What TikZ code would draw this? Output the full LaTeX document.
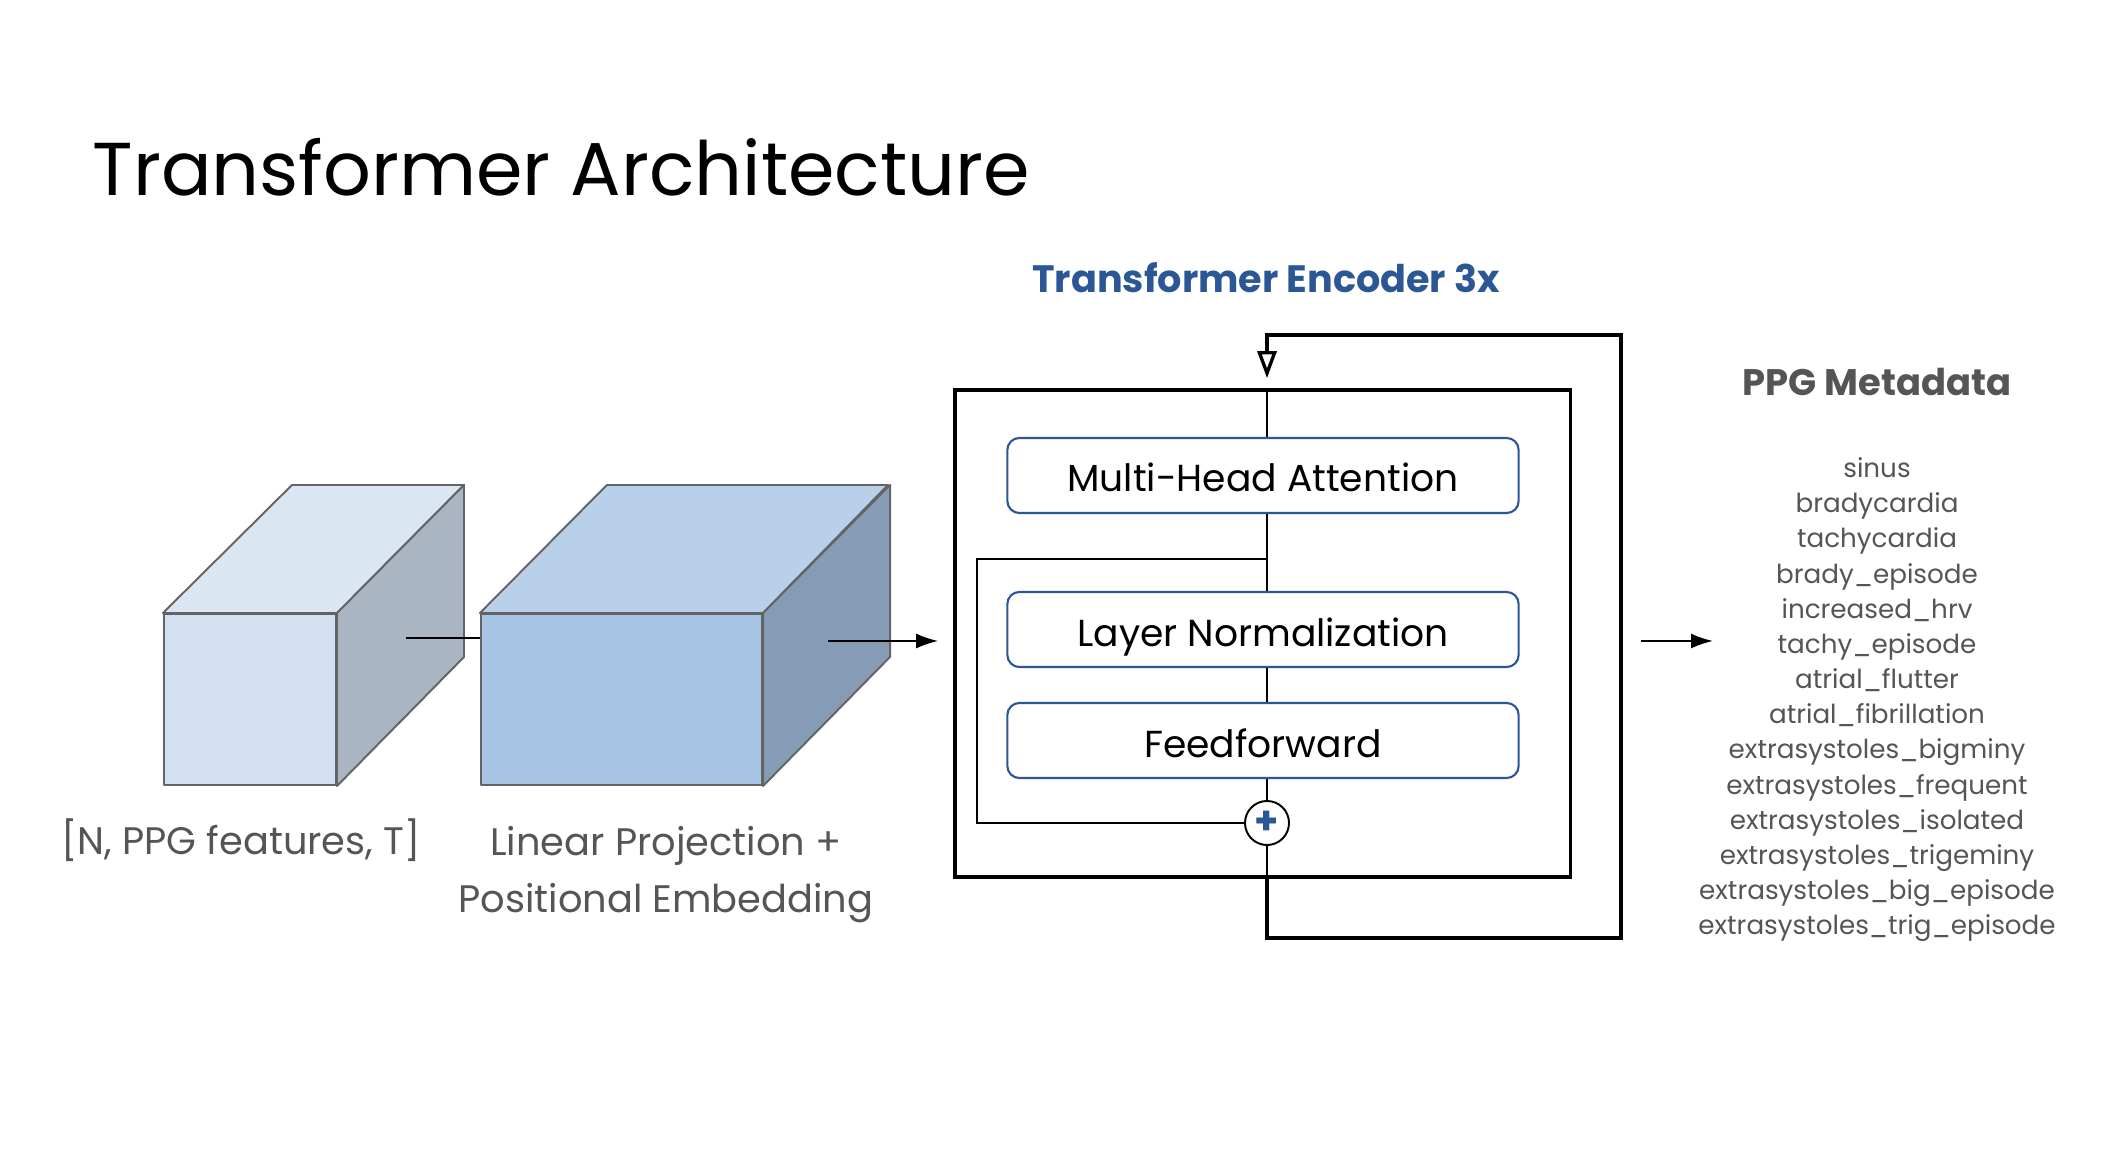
\documentclass[tikz,border=0pt]{standalone}
\usepackage{fontspec}
\setmainfont{Poppins}
\usetikzlibrary{arrows.meta, positioning, calc}

\definecolor{encblue}{RGB}{43,87,151}
\definecolor{txtgray}{RGB}{85,85,85}
\definecolor{edgegray}{RGB}{100,100,100}
\definecolor{inpfront}{RGB}{211,224,241}
\definecolor{inptop}{RGB}{219,230,243}
\definecolor{inpside}{RGB}{169,181,194}
\definecolor{embfront}{RGB}{167,196,228}
\definecolor{embtop}{RGB}{185,208,234}
\definecolor{embside}{RGB}{134,156,182}

\begin{document}
\begin{tikzpicture}[x=0.01cm, y=-0.01cm,
		face/.style={draw=edgegray, line width=0.55pt, line join=round},
		layer/.style={draw=encblue, line width=0.6pt, rounded corners=0.12cm, minimum width=5.11cm, minimum height=0.75cm, text height=0.33cm, text depth=0cm, font=\fontsize{10.7}{12}\selectfont},
		thinline/.style={line width=0.55pt},
		thickline/.style={line width=0.95pt},
		arr/.style={line width=0.55pt, -{Latex[length=0.22cm, width=0.15cm]}},
		lbl/.style={text=txtgray, font=\fontsize{10.9}{16.2}\selectfont, align=center, inner sep=0pt}]
		\useasboundingbox[fill=white] (0,0) rectangle (2112,1174);
		
		\node[anchor=base west, inner sep=0pt, font=\fontsize{21.3}{24}\selectfont] (title) at (92,196) {Transformer Architecture};
		
		% input and embedding blocks
		\node[face, fill=inpfront, minimum width=1.72cm, minimum height=1.71cm] (inp) at (250,699.5) {};
		\filldraw[face, fill=inptop] (inp.north west) -- ++(129,-128) -- ++(172,0) -- (inp.north east) -- cycle;
		\filldraw[face, fill=inpside] (inp.north east) -- ++(127,-128) -- ++(0,172) -- (inp.south east) -- cycle;
		
		\node[face, fill=embfront, minimum width=2.81cm, minimum height=1.71cm] (emb) at (621.5,699.5) {};
		\filldraw[face, fill=embtop] (emb.north west) -- ++(127,-128) -- ++(281,0) -- (emb.north east) -- cycle;
		\filldraw[face, fill=embside] (emb.north east) -- ++(127,-128) -- ++(0,172) -- (emb.south east) -- cycle;
		
		\node[lbl, anchor=base] (inplbl) at (241,855) {[N, PPG features, T]};
		\node[lbl, anchor=north] (emblbl) at (666,826) {Linear Projection +\\Positional Embedding};
		
		% encoder
		\node[draw, thickline, minimum width=6.15cm, minimum height=4.87cm] (enc) at (1262.5,633.5) {};
		\node[anchor=base, inner sep=0pt, text=encblue, font=\bfseries\fontsize{10.85}{13}\selectfont] (enctitle) at (1266,293) {Transformer Encoder 3x};
		
		\node[layer] (mha) at (1263,475.5) {Multi-Head Attention};
		\node[layer] (ln) at (1263,629.5) {Layer Normalization};
		\node[layer] (ff) at (1263,740.5) {Feedforward};
		\node[circle, draw, fill=white, thinline, minimum size=0.44cm, inner sep=0pt, text=encblue, font=\bfseries\fontsize{11}{11}\selectfont] (plus) at (1267,823) {+};
		
		\draw[thinline] (enc.north -| plus) -- (mha.north -| plus);
		\draw[thinline] (mha.south -| plus) -- (ln.north -| plus);
		\draw[thinline] (ln.south -| plus) -- (ff.north -| plus);
		\draw[thinline] (ff.south -| plus) -- (plus.north);
		\draw[thinline] (plus.south) -- (enc.south -| plus);
		
		\coordinate (res) at (1267,559);
		\draw[thinline] (res) -- ++(-290,0) |- (plus.west);
		
		\coordinate (loopbr) at (1621,938);
		\coordinate (looptr) at (1621,335);
		\draw[thickline, -{Triangle[open, length=0.27cm, width=0.19cm]}, shorten >=0.1cm] (enc.south -| plus) |- (loopbr) -- (looptr) -| (enc.north -| plus);
		
		% connectors
		\coordinate (inpout) at (406,638);
		\draw[thinline] (inpout) -- (inpout -| emb.west);
		\coordinate (embout) at (828,641);
		\draw[arr, shorten >=0.15cm] (embout) -- (embout -| enc.west);
		
		% metadata
		\node[anchor=base, inner sep=0pt, text=txtgray, font=\bfseries\fontsize{10.5}{12}\selectfont] (metatitle) at (1877,396) {PPG Metadata};
		\node[anchor=north, inner sep=0pt, text=txtgray, align=center, font=\fontsize{7.45}{10}\selectfont] (meta) at (1877,457) {sinus\\bradycardia\\tachycardia\\brady\_episode\\increased\_hrv\\tachy\_episode\\atrial\_flutter\\atrial\_fibrillation\\extrasystoles\_bigminy\\extrasystoles\_frequent\\extrasystoles\_isolated\\extrasystoles\_trigeminy\\extrasystoles\_big\_episode\\extrasystoles\_trig\_episode};
		\coordinate (metaout) at (1641,641);
		\coordinate (metain) at (1713,641);
		\draw[arr] (metaout) -- (metain);
		
	\end{tikzpicture}
\end{document}
